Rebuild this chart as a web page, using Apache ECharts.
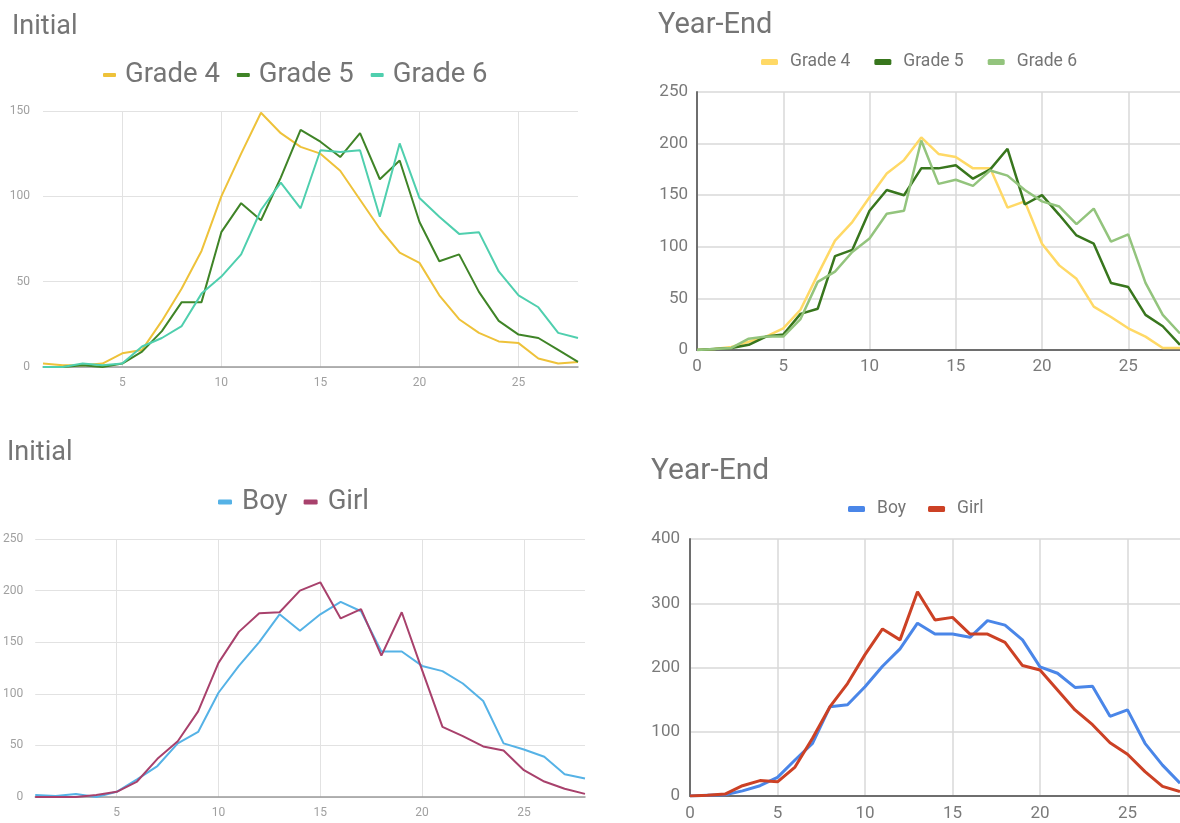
<!DOCTYPE html>
<html>
<head>
<meta charset="utf-8">
<script src="https://cdn.jsdelivr.net/npm/echarts@6.0.0/dist/echarts.min.js"></script>
<style>
html, body { margin: 0; padding: 0; background: #fff; }
.wrap { position: relative; width: 1180px; height: 823px; overflow: hidden; }
.chart { position: absolute; width: 590px; }
#c1 { left: 0; top: 0; height: 411px; }
#c2 { left: 590px; top: 0; height: 411px; }
#c3 { left: 0; top: 411px; height: 412px; }
#c4 { left: 590px; top: 411px; height: 412px; }
</style>
</head>
<body>
<div class="wrap">
  <div id="c1" class="chart"></div>
  <div id="c2" class="chart"></div>
  <div id="c3" class="chart"></div>
  <div id="c4" class="chart"></div>
</div>
<script>
// x values
const scoresFrom1 = [1, 2, 3, 4, 5, 6, 7, 8, 9, 10, 11, 12, 13, 14, 15, 16, 17, 18, 19, 20, 21, 22, 23, 24, 25, 26, 27, 28]
const scoresFrom0 = [0, 1, 2, 3, 4, 5, 6, 7, 8, 9, 10, 11, 12, 13, 14, 15, 16, 17, 18, 19, 20, 21, 22, 23, 24, 25, 26, 27, 28]

// Initial, by grade
const initGrade4 = [2, 1, 1, 2, 8, 10, 27, 46, 68, 100, 125, 149, 137, 129, 125, 115, 98, 81, 67, 61, 42, 28, 20, 15, 14, 5, 2, 3]
const initGrade5 = [0, 0, 1, 0, 2, 9, 21, 38, 38, 79, 96, 86, 111, 139, 132, 123, 137, 110, 121, 85, 62, 66, 44, 27, 19, 17, 10, 3]
const initGrade6 = [0, 0, 2, 1, 2, 12, 17, 24, 43, 53, 66, 92, 108, 93, 127, 126, 127, 88, 131, 99, 88, 78, 79, 56, 42, 35, 20, 17]

// Year-End, by grade
const endGrade4 = [0, 1, 3, 8, 13, 21, 39, 73, 106, 124, 148, 171, 184, 206, 190, 187, 176, 176, 138, 144, 103, 82, 69, 42, 32, 21, 13, 2, 2]
const endGrade5 = [0, 1, 2, 5, 13, 15, 35, 40, 91, 97, 135, 155, 150, 176, 176, 179, 166, 175, 195, 141, 150, 131, 111, 103, 65, 61, 34, 23, 5]
const endGrade6 = [0, 1, 2, 11, 13, 13, 30, 66, 76, 95, 108, 132, 135, 203, 161, 165, 159, 174, 169, 155, 144, 139, 122, 137, 105, 112, 65, 34, 16]

// Initial, by gender
const initBoy = [2, 1, 3, 0, 5, 17, 30, 52, 63, 101, 127, 150, 177, 161, 177, 189, 180, 141, 141, 127, 122, 110, 93, 52, 46, 39, 22, 18]
const initGirl = [0, 0, 0, 2, 5, 15, 37, 54, 83, 130, 160, 178, 179, 200, 208, 173, 182, 137, 179, 123, 68, 59, 49, 45, 26, 15, 8, 3]

// Year-End, by gender
const endBoy = [0, 1, 2, 8, 16, 29, 56, 82, 139, 142, 170, 202, 229, 269, 252, 252, 247, 273, 266, 243, 201, 191, 169, 171, 124, 134, 82, 48, 20]
const endGirl = [0, 1, 3, 16, 24, 22, 45, 90, 139, 175, 220, 260, 243, 318, 274, 278, 252, 252, 239, 203, 196, 165, 134, 111, 83, 65, 38, 15, 7]

const FONT = 'Roboto'

const buildOption = (p) => ({
  animation: false,
  title: {
    text: p.title,
    left: p.titleLeft,
    top: p.titleTop,
    padding: 0,
    textStyle: { fontFamily: FONT, fontSize: p.titleSize, fontWeight: 'normal', color: '#757575' }
  },
  legend: {
    left: p.legendLeft,
    top: p.legendTop,
    padding: 0,
    icon: 'roundRect',
    itemWidth: p.iconW,
    itemHeight: p.iconH,
    itemGap: p.legendGap,
    textStyle: { fontFamily: FONT, fontSize: p.legendSize, color: '#757575', padding: [0, 0, 0, p.textPad] },
    data: p.series.map(s => s.name)
  },
  grid: { left: p.grid[0], top: p.grid[1], right: p.grid[2], bottom: p.grid[3], containLabel: false },
  xAxis: {
    type: 'value',
    min: p.xs[0],
    max: 28,
    minInterval: 5,
    maxInterval: 5,
    axisTick: { show: false },
    axisLine: { show: true, lineStyle: { color: p.axisColor, width: p.axisWidth } },
    axisLabel: {
      showMinLabel: p.xs[0] === 0,
      showMaxLabel: false,
      margin: p.xMargin,
      fontFamily: FONT,
      fontSize: p.labelSize,
      color: p.labelColor
    },
    splitLine: { show: true, showMinLine: false, showMaxLine: false, lineStyle: { color: p.gridColor, width: p.gridWidth } }
  },
  yAxis: {
    type: 'value',
    min: 0,
    max: p.yMax,
    interval: p.yStep,
    axisTick: { show: false },
    axisLine: { show: p.leftLine, lineStyle: { color: p.axisColor, width: p.axisWidth } },
    axisLabel: { margin: p.yMargin, fontFamily: FONT, fontSize: p.labelSize, color: p.labelColor },
    splitLine: { show: true, lineStyle: { color: p.gridColor, width: p.gridWidth } }
  },
  series: p.series.map(s => ({
    name: s.name,
    type: 'line',
    symbol: 'none',
    color: s.color,
    lineStyle: { width: p.lineWidth, color: s.color },
    data: p.xs.map((x, i) => [x, s.values[i]])
  }))
})

const panels = [
  {
    el: 'c1', title: 'Initial', titleLeft: 12, titleTop: 14, titleSize: 27,
    legendLeft: 103, legendTop: 61, legendSize: 27.5, iconW: 13, iconH: 4, legendGap: 17, textPad: 4,
    grid: [43, 111, 12, 44], xs: scoresFrom1, yMax: 150, yStep: 50,
    labelSize: 12, labelColor: '#a0a0a0', xMargin: 10, yMargin: 13,
    axisColor: '#9a9a9a', axisWidth: 1.5, leftLine: false, gridColor: '#e2e2e2', gridWidth: 1, lineWidth: 2,
    series: [
      { name: 'Grade 4', color: '#eec23a', values: initGrade4 },
      { name: 'Grade 5', color: '#3f8427', values: initGrade5 },
      { name: 'Grade 6', color: '#4fcfae', values: initGrade6 }
    ]
  },
  {
    el: 'c2', title: 'Year-End', titleLeft: 68, titleTop: 11, titleSize: 29,
    legendLeft: 171, legendTop: 53, legendSize: 17.5, iconW: 17, iconH: 6, legendGap: 24, textPad: 7,
    grid: [107, 92, -1, 61], xs: scoresFrom0, yMax: 250, yStep: 50,
    labelSize: 17, labelColor: '#7a7a7a', xMargin: 8, yMargin: 9,
    axisColor: '#6e6e6e', axisWidth: 2, leftLine: true, gridColor: '#d9d9d9', gridWidth: 1.5, lineWidth: 2.5,
    series: [
      { name: 'Grade 4', color: '#ffd966', values: endGrade4 },
      { name: 'Grade 5', color: '#38761d', values: endGrade5 },
      { name: 'Grade 6', color: '#93c47d', values: endGrade6 }
    ]
  },
  {
    el: 'c3', title: 'Initial', titleLeft: 7, titleTop: 29, titleSize: 27,
    legendLeft: 218, legendTop: 77, legendSize: 27.5, iconW: 14, iconH: 5, legendGap: 16, textPad: 5,
    grid: [35, 128, 5, 26], xs: scoresFrom1, yMax: 250, yStep: 50,
    labelSize: 12, labelColor: '#a0a0a0', xMargin: 10, yMargin: 12,
    axisColor: '#9a9a9a', axisWidth: 1.5, leftLine: false, gridColor: '#e2e2e2', gridWidth: 1, lineWidth: 2,
    series: [
      { name: 'Boy', color: '#55b2e6', values: initBoy },
      { name: 'Girl', color: '#a8416c', values: initGirl }
    ]
  },
  {
    el: 'c4', title: 'Year-End', titleLeft: 61, titleTop: 45, titleSize: 30,
    legendLeft: 258, legendTop: 89, legendSize: 17.5, iconW: 17, iconH: 6, legendGap: 22, textPad: 7,
    grid: [100, 128, -8, 27], xs: scoresFrom0, yMax: 400, yStep: 100,
    labelSize: 17, labelColor: '#7a7a7a', xMargin: 9, yMargin: 10,
    axisColor: '#6e6e6e', axisWidth: 2, leftLine: true, gridColor: '#d9d9d9', gridWidth: 1.5, lineWidth: 3,
    series: [
      { name: 'Boy', color: '#4a86e8', values: endBoy },
      { name: 'Girl', color: '#cc4125', values: endGirl }
    ]
  }
]

panels.forEach(p => {
  const chart = echarts.init(document.getElementById(p.el))
  chart.setOption(buildOption(p))
})
</script>
</body>
</html>
